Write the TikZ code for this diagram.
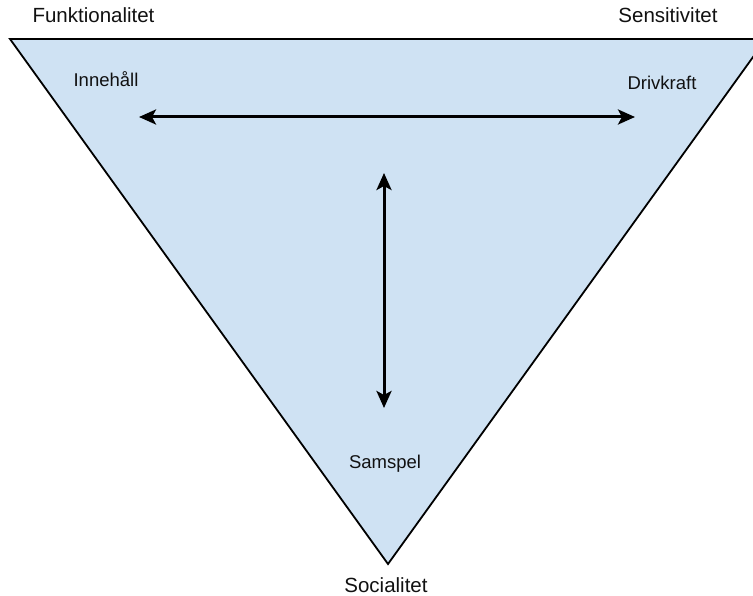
\documentclass[tikz,border=0pt]{standalone}
\usepackage{fontspec}
\setmainfont{Liberation Sans}
\usetikzlibrary{arrows.meta}
\definecolor{trifill}{HTML}{CFE2F3}
\definecolor{ink}{HTML}{111111}
\tikzset{
  outerlabel/.style={anchor=base, inner sep=0pt, text=ink, font=\fontsize{20.5}{24}\selectfont},
  innerlabel/.style={anchor=base, inner sep=0pt, text=ink, font=\fontsize{18.5}{22}\selectfont},
  edge/.style={draw=black, line width=1.8pt, line join=miter},
  link/.style={draw=black, line width=3pt,
    {Stealth[length=17pt, width=15pt, inset=4pt]}-{Stealth[length=17pt, width=15pt, inset=4pt]}}
}
\begin{document}
\begin{tikzpicture}[x=1pt, y=-1pt]
  \useasboundingbox (0,0) rectangle (753,596);
  \clip (0,0) rectangle (753,596);

  % corners of the inverted triangle
  \coordinate (tl) at (10,39);
  \coordinate (tr) at (766,39);
  \coordinate (bt) at (388,564);
  \path[edge, fill=trifill] (tl) -- (tr) -- (bt) -- cycle;

  % corner captions
  \node[outerlabel] (funk) at (93.5,23) {Funktionalitet};
  \node[outerlabel] (sens) at (668,23) {Sensitivitet};
  \node[outerlabel] (soc)  at (386,592) {Socialitet};

  % inner captions
  \node[innerlabel] (inne) at (106,87) {Innehåll};
  \node[innerlabel] (driv) at (662,90) {Drivkraft};
  \node[innerlabel] (samp) at (385,468) {Samspel};

  % arrow end points
  \coordinate (hl) at (139,117);
  \coordinate (hr) at (635,117);
  \coordinate (vt) at (384,173);
  \coordinate (vb) at (384,408);

  \draw[link] (hl) -- (hr);
  \draw[link] (vt) -- (vb);
\end{tikzpicture}
\end{document}
